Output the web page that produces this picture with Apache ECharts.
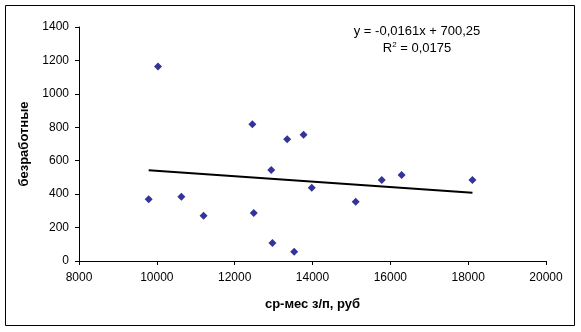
<!DOCTYPE html>
<html>
<head>
<meta charset="utf-8">
<script src="https://cdn.jsdelivr.net/npm/echarts@6/dist/echarts.min.js"></script>
<style>
html,body{margin:0;padding:0;background:#fff;}
#c{width:581px;height:332px;}
</style>
</head>
<body>
<div id="c"></div>
<script>
// Data
var salary = [9790, 10030, 10630, 11200, 12455, 12490, 12940, 12970, 13350, 13530, 13770, 13980, 15110, 15780, 16290, 18110];
var unemployed = [370, 1163, 385, 270, 818, 287, 544, 107, 729, 56, 755, 438, 354, 484, 514, 484];
var trendX = [9790, 18110];
var trendY = [543, 409];
var xTitle = 'ср-мес з/п, руб';
var yTitle = 'безработные';
var eqText = 'y = -0,0161x + 700,25';

var pts = salary.map(function(x, i){ return [x, unemployed[i]]; });
var trend = trendX.map(function(x, i){ return [x, trendY[i]]; });

var chart = echarts.init(document.getElementById('c'), null, {renderer:'canvas'});
var font = 'Arial, "Liberation Sans", sans-serif';
var plain = function(v){ return String(v); };
chart.setOption({
  animation:false,
  backgroundColor:'#fff',
  grid:{left:79, top:27, width:467, height:234},
  xAxis:{
    type:'value', min:8000, max:20000, interval:2000,
    name:xTitle, nameLocation:'middle', nameGap:37,
    nameTextStyle:{fontFamily:font, fontSize:13, fontWeight:'bold', color:'#000'},
    axisLine:{lineStyle:{color:'#000', width:1}},
    axisTick:{show:true, length:4, lineStyle:{color:'#000'}},
    axisLabel:{fontFamily:font, fontSize:12, color:'#000', margin:11, formatter:plain},
    splitLine:{show:false}
  },
  yAxis:{
    type:'value', min:0, max:1400, interval:200,
    name:yTitle, nameLocation:'middle', nameGap:44, nameRotate:90,
    nameTextStyle:{fontFamily:font, fontSize:13, fontWeight:'bold', color:'#000'},
    axisLine:{show:true, lineStyle:{color:'#000', width:1}},
    axisTick:{show:true, length:4, lineStyle:{color:'#000'}},
    axisLabel:{fontFamily:font, fontSize:12, color:'#000', margin:10, formatter:plain},
    splitLine:{show:false}
  },
  series:[
    {
      type:'line', data:trend, symbol:'none',
      lineStyle:{color:'#000', width:2}, z:1
    },
    {
      type:'scatter', data:pts, symbol:'diamond', symbolSize:8,
      itemStyle:{color:'#000080'}, z:2
    }
  ],
  graphic:[
    {type:'rect', shape:{x:5.5, y:5.5, width:569, height:320},
     style:{fill:'none', stroke:'#000', lineWidth:1}, silent:true},
    {type:'text', x:417, y:31, style:{text:eqText, font:'13px ' + font, fill:'#000', textAlign:'center', textVerticalAlign:'middle'}},
    {type:'text', x:417, y:48, style:{
      text:'{a|R}{s|2}{a| = 0,0175}',
      textAlign:'center', textVerticalAlign:'middle',
      rich:{
        a:{fontFamily:font, fontSize:13, fill:'#000', color:'#000'},
        s:{fontFamily:font, fontSize:8, fill:'#000', color:'#000', verticalAlign:'top', padding:[0,0,6,0]}
      }
    }}
  ]
});
</script>
</body>
</html>
